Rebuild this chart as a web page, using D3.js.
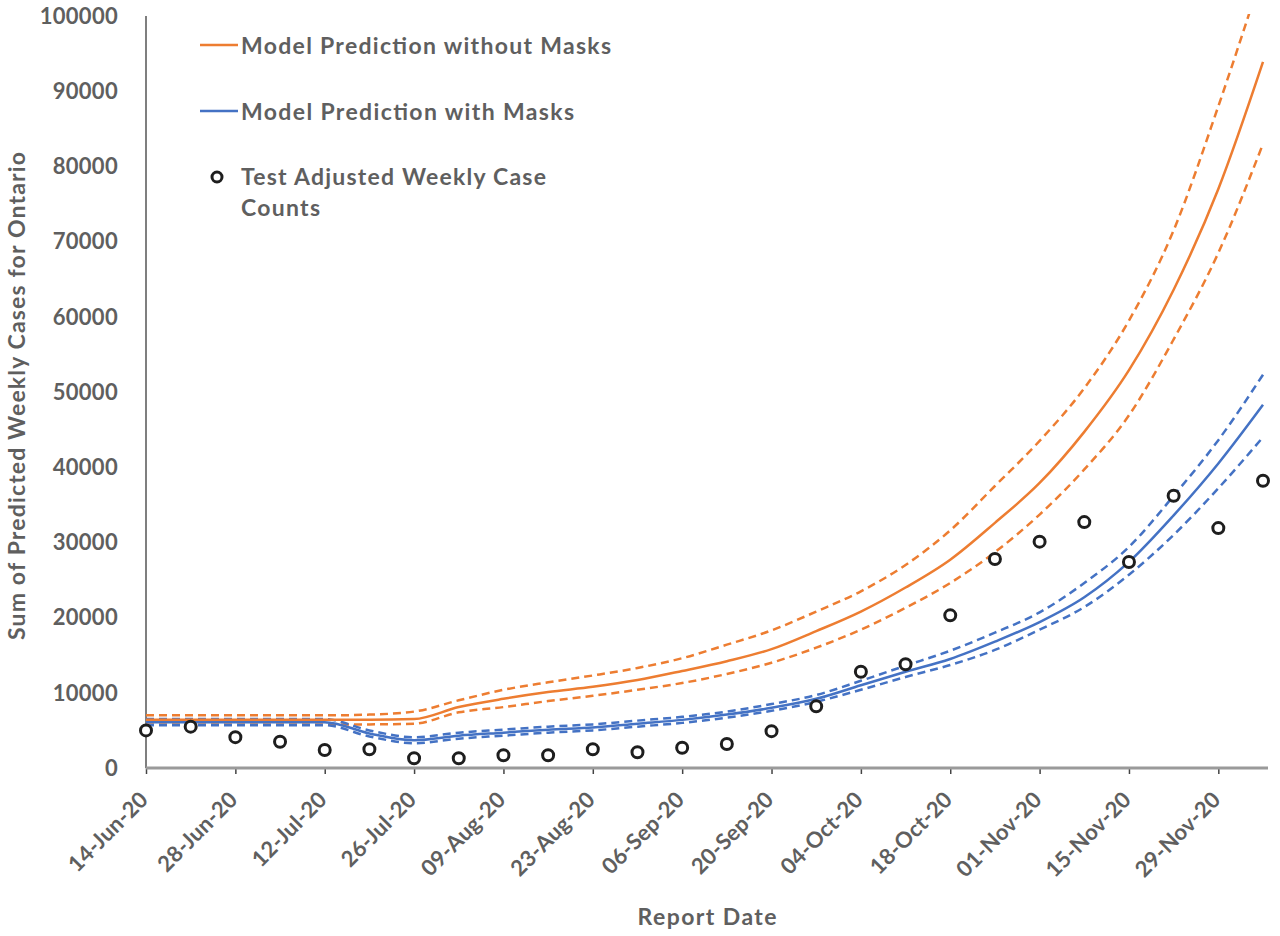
<!DOCTYPE html>
<html>
<head>
<meta charset="utf-8">
<script src="https://cdn.jsdelivr.net/npm/d3@7"></script>
<style>
  body { margin: 0; background: #fff; }
  svg text { font-family: Lato, "Open Sans", sans-serif; font-weight: 700; fill: #5f5f5f; }
</style>
</head>
<body>
<div id="chart"></div>
<script>
// weekly report dates (x categories)
const dates = ["2020-06-14","2020-06-21","2020-06-28","2020-07-05","2020-07-12","2020-07-19",
  "2020-07-26","2020-08-02","2020-08-09","2020-08-16","2020-08-23","2020-08-30","2020-09-06",
  "2020-09-13","2020-09-20","2020-09-27","2020-10-04","2020-10-11","2020-10-18","2020-10-25",
  "2020-11-01","2020-11-08","2020-11-15","2020-11-22","2020-11-29","2020-12-06"]

// labelled ticks, every two weeks
const tickDates = ["2020-06-14","2020-06-28","2020-07-12","2020-07-26","2020-08-09","2020-08-23",
  "2020-09-06","2020-09-20","2020-10-04","2020-10-18","2020-11-01","2020-11-15","2020-11-29"]

const yTicks = [0,10000,20000,30000,40000,50000,60000,70000,80000,90000,100000]

// test adjusted weekly case counts (circles)
const observed = [5000,5500,4100,3500,2400,2500,1300,1300,1700,1700,2500,2100,2700,3200,4900,
  8200,12800,13800,20300,27800,30100,32700,27400,36200,31900,38200]

// model without masks: centre + upper/lower bounds
const noMask = [6400,6400,6400,6400,6400,6400,6500,8100,9200,10100,10800,11700,12900,14200,15800,
  18200,20800,24000,27700,32600,37900,44700,52900,63600,77000,93900]
const noMaskHi = [7000,7000,7000,7000,7000,7100,7500,9000,10400,11400,12300,13300,14600,16400,18300,
  20800,23500,27000,31600,37500,43500,50500,59500,71500,88000,106000]
const noMaskLo = [5800,5800,5800,5800,5800,5800,5900,7400,8100,8900,9600,10400,11300,12500,14000,
  16000,18400,21300,24600,28700,33700,39700,46900,57000,68500,83000]

// model with masks
const mask = [6100,6100,6100,6100,6100,4600,3700,4300,4700,5100,5400,5900,6400,7100,8000,
  9200,11000,12800,14500,16800,19400,22700,27400,33600,40500,48300]
const maskHi = [6500,6500,6500,6500,6500,5000,4100,4700,5100,5500,5800,6300,6800,7500,8500,
  9700,11600,13600,15600,18000,20700,24600,29400,36200,43600,52300]
const maskLo = [5700,5700,5700,5700,5700,4200,3300,3900,4300,4700,5000,5500,6000,6700,7600,
  8800,10400,12100,13700,15700,18400,21400,25700,31000,37200,44000]

const W = 1280, H = 936
const margin = { top: 16, left: 146, bottom: 168, right: 17 }
const plotB = H - margin.bottom   // y of the x axis

const orange = "#ed7d31", blue = "#4472c4"

const parse = d3.timeParse("%Y-%m-%d")
const fmt = d3.timeFormat("%d-%b-%y")

const x = d3.scaleTime()
  .domain([parse(dates[0]), parse(dates[dates.length - 1])])
  .range([margin.left, 1263])
const y = d3.scaleLinear().domain([0, 100000]).range([plotB, margin.top])

const svg = d3.select("#chart").append("svg")
  .attr("width", W).attr("height", H)

// clip lines to the plot area (upper bound runs past 100000)
svg.append("clipPath").attr("id", "plot")
  .append("rect")
  .attr("x", margin.left).attr("y", margin.top - 2)
  .attr("width", W - margin.left).attr("height", plotB - margin.top + 2)

// y tick labels only, no tick marks
svg.append("g").selectAll("text")
  .data(yTicks)
  .join("text")
  .attr("x", 118).attr("y", d => y(d))
  .attr("dy", "0.35em")
  .attr("text-anchor", "end")
  .style("font-size", "22px")
  .style("letter-spacing", "0.3px")
  .text(d => d)

// y axis line
svg.append("line")
  .attr("x1", margin.left).attr("x2", margin.left)
  .attr("y1", margin.top).attr("y2", plotB)
  .attr("stroke", "#555").attr("stroke-width", 1.5)

// x axis
const xAxis = svg.append("g")
  .attr("transform", `translate(0,${plotB})`)
  .call(d3.axisBottom(x)
    .tickValues(tickDates.map(parse))
    .tickSize(6)
    .tickFormat(fmt))
xAxis.select(".domain").remove()
xAxis.append("line")
  .attr("x1", margin.left).attr("x2", 1268)
  .attr("stroke", "#9a9a9a").attr("stroke-width", 3)
xAxis.selectAll(".tick line").attr("stroke", "#444").attr("stroke-width", 1.5)
xAxis.selectAll(".tick text")
  .attr("text-anchor", "end")
  .attr("fill", null)
  .attr("dy", null)
  .attr("y", 0)
  .attr("transform", "translate(3,33) rotate(-45)")
  .style("font-size", "22px")
  .style("letter-spacing", "0.2px")
  .style("font-family", "Lato, sans-serif")

// axis titles
svg.append("text")
  .attr("x", 707).attr("y", 925)
  .attr("text-anchor", "middle")
  .attr("textLength", 139).attr("lengthAdjust", "spacing")
  .style("font-size", "23px")
  .text("Report Date")

svg.append("text")
  .attr("transform", "translate(25,396) rotate(-90)")
  .attr("text-anchor", "middle")
  .attr("textLength", 488).attr("lengthAdjust", "spacing")
  .style("font-size", "23px")
  .text("Sum of Predicted Weekly Cases for Ontario")

const line = vals => d3.line()
  .x((d, i) => x(parse(dates[i])))
  .y(d => y(d))
  .curve(d3.curveMonotoneX)(vals)

const lines = svg.append("g").attr("clip-path", "url(#plot)")

const series = [
  { vals: noMaskHi, color: orange, dash: "8,5" },
  { vals: noMaskLo, color: orange, dash: "8,5" },
  { vals: maskHi,   color: blue,   dash: "8,5" },
  { vals: maskLo,   color: blue,   dash: "8,5" },
  { vals: noMask,   color: orange, dash: null },
  { vals: mask,     color: blue,   dash: null }
]

series.forEach(s => {
  lines.append("path")
    .attr("d", line(s.vals))
    .attr("fill", "none")
    .attr("stroke", s.color)
    .attr("stroke-width", 2.5)
    .attr("stroke-dasharray", s.dash)
})

// observed counts as open circles
svg.append("g").selectAll("circle")
  .data(observed)
  .join("circle")
  .attr("cx", (d, i) => x(parse(dates[i])))
  .attr("cy", d => y(d))
  .attr("r", 5.5)
  .attr("fill", "#fff")
  .attr("stroke", "#1e1e1e")
  .attr("stroke-width", 3)

// legend
const legend = svg.append("g")
const legendText = (yy, str, len) => legend.append("text")
  .attr("x", 241).attr("y", yy)
  .attr("textLength", len).attr("lengthAdjust", "spacing")
  .style("font-size", "23px")
  .text(str)

legend.append("line")
  .attr("x1", 200).attr("x2", 238).attr("y1", 45).attr("y2", 45)
  .attr("stroke", orange).attr("stroke-width", 2.5)
legendText(54, "Model Prediction without Masks", 370)

legend.append("line")
  .attr("x1", 200).attr("x2", 238).attr("y1", 111).attr("y2", 111)
  .attr("stroke", blue).attr("stroke-width", 2.5)
legendText(120, "Model Prediction with Masks", 333)

legend.append("circle")
  .attr("cx", 217).attr("cy", 177).attr("r", 5)
  .attr("fill", "#fff").attr("stroke", "#1e1e1e").attr("stroke-width", 3)
legendText(185, "Test Adjusted Weekly Case", 305)
legendText(216, "Counts", 79)
</script>
</body>
</html>
